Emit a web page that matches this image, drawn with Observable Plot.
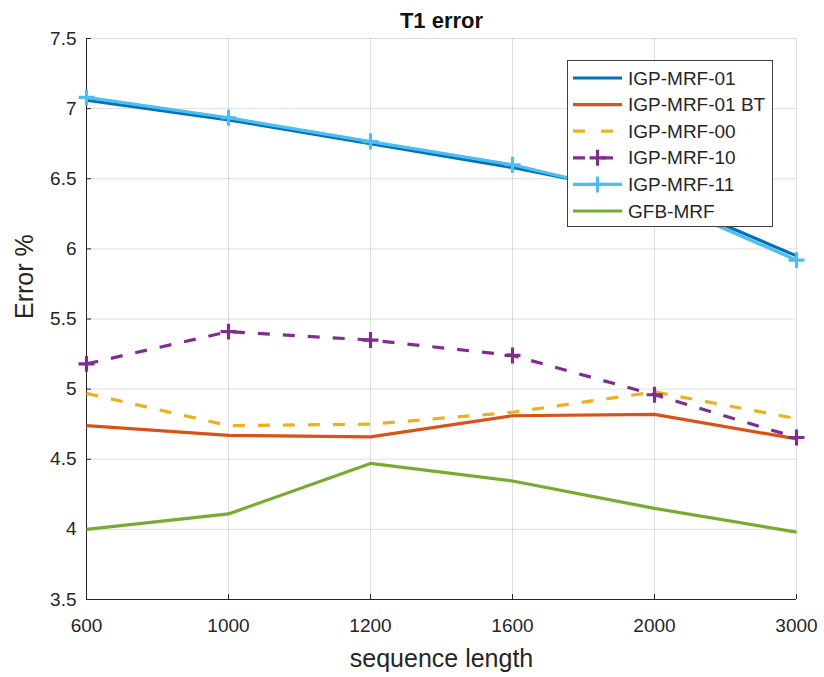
<!DOCTYPE html>
<html>
<head>
<meta charset="utf-8">
<script src="https://cdn.jsdelivr.net/npm/d3@7"></script>
<script src="https://cdn.jsdelivr.net/npm/@observablehq/plot@0.6"></script>
<style>
  html, body { margin: 0; padding: 0; background: #fff; }
  #wrap { position: relative; width: 824px; height: 677px; font-family: "Liberation Sans", Arial, Helvetica, sans-serif; }
  #legend { position: absolute; left: 567px; top: 60px; width: 206px; height: 167px; background: #fff; border: 1.5px solid #404040; box-sizing: border-box; }
</style>
</head>
<body>
<div id="wrap"></div>
<script>
const categories = ["600", "1000", "1200", "1600", "2000", "3000"];
const yTicks = [3.5, 4, 4.5, 5, 5.5, 6, 6.5, 7, 7.5];

const igp01   = [7.06, 6.92, 6.75, 6.58, 6.38, 5.95];
const igp01bt = [4.74, 4.67, 4.66, 4.81, 4.82, 4.645];
const igp00   = [4.97, 4.74, 4.75, 4.835, 4.98, 4.79];
const igp10   = [5.18, 5.41, 5.35, 5.24, 4.96, 4.655];
const igp11   = [7.08, 6.935, 6.765, 6.60, 6.36, 5.92];
const gfb     = [4.00, 4.11, 4.47, 4.345, 4.15, 3.98];

const seriesNames = ["IGP-MRF-01", "IGP-MRF-01 BT", "IGP-MRF-00", "IGP-MRF-10", "IGP-MRF-11", "GFB-MRF"];
const seriesValues = [igp01, igp01bt, igp00, igp10, igp11, gfb];
const seriesColors = ["#0072BD", "#D95319", "#EDB120", "#7E2F8E", "#4DBEEE", "#77AC30"];
const seriesDash = [null, null, "12,13", "12,13", null, null];
const seriesMarker = [false, false, false, true, true, false];

const series = seriesNames.map((name, i) => ({
  name,
  color: seriesColors[i],
  dash: seriesDash[i],
  marker: seriesMarker[i],
  rows: categories.map((c, j) => ({x: c, y: seriesValues[i][j], series: name}))
}));

const font = "'Liberation Sans', Arial, Helvetica, sans-serif";
const ink = "#262626";

const marks = [
  Plot.gridX(categories, {stroke: ink, strokeOpacity: 0.15, strokeWidth: 1}),
  Plot.gridY(yTicks, {stroke: ink, strokeOpacity: 0.15, strokeWidth: 1}),
  Plot.ruleX([categories[0]], {stroke: ink, strokeWidth: 1}),
  Plot.ruleY([yTicks[0]], {stroke: ink, strokeWidth: 1}),
  Plot.axisX(categories, {tickSize: -5, text: null, stroke: ink, label: null}),
  Plot.axisY(yTicks, {tickSize: -5, text: null, stroke: ink, label: null}),
  Plot.axisX(categories, {tickSize: 0, tickPadding: 19, fontSize: 19, fill: ink, label: null}),
  Plot.axisY(yTicks, {tickSize: 0, tickPadding: 10, fontSize: 19, fill: ink, label: null, tickFormat: d => String(d)}),
];

for (const s of series) {
  marks.push(Plot.line(s.rows, {
    x: "x", y: "y", stroke: s.color, strokeWidth: 3.2,
    strokeDasharray: s.dash, strokeLinejoin: "round", strokeLinecap: "butt"
  }));
  if (s.marker) {
    marks.push(Plot.dot(s.rows, {x: "x", y: "y", symbol: "plus", r: 5.2, stroke: s.color, strokeWidth: 3.2}));
  }
}

marks.push(
  Plot.text(["T1 error"], {frameAnchor: "top", dy: -11, lineAnchor: "bottom", fontSize: 22, fontWeight: "bold", fill: "#111"}),
  Plot.text(["sequence length"], {frameAnchor: "bottom", dy: 67, lineAnchor: "bottom", fontSize: 25, fill: ink}),
  Plot.text(["Error %"], {frameAnchor: "left", dx: -62, rotate: -90, fontSize: 25, fill: ink})
);

const chart = Plot.plot({
  width: 824,
  height: 677,
  marginLeft: 86,
  marginRight: 28,
  marginTop: 38,
  marginBottom: 78,
  style: {fontFamily: font, background: "#fff", overflow: "visible"},
  x: {type: "point", domain: categories, padding: 0, axis: null, label: null},
  y: {type: "linear", domain: [3.5, 7.5], axis: null, label: null},
  marks
});

const wrap = document.getElementById("wrap");
wrap.appendChild(chart);

// Legend
const legend = document.createElement("div");
legend.id = "legend";
const lw = 206, lh = 167;
const ls = d3.create("svg").attr("width", lw).attr("height", lh).style("display", "block");
series.forEach((s, i) => {
  const cy = 17 + i * 26.6;
  const g = ls.append("g");
  g.append("line").attr("x1", 5).attr("x2", 54).attr("y1", cy).attr("y2", cy)
    .attr("stroke", s.color).attr("stroke-width", 3.2)
    .attr("stroke-dasharray", s.dash ? "12,16" : null);
  if (s.marker) {
    g.append("path").attr("d", d3.symbol(d3.symbolPlus, Math.PI * 5.2 * 5.2)())
      .attr("transform", `translate(29.5,${cy})`).attr("fill", "none")
      .attr("stroke", s.color).attr("stroke-width", 3.2);
  }
  g.append("text").attr("x", 60).attr("y", cy).attr("dy", "0.35em")
    .attr("font-family", font).attr("font-size", 19).attr("fill", ink).text(s.name);
});
legend.appendChild(ls.node());
wrap.appendChild(legend);
</script>
</body>
</html>
